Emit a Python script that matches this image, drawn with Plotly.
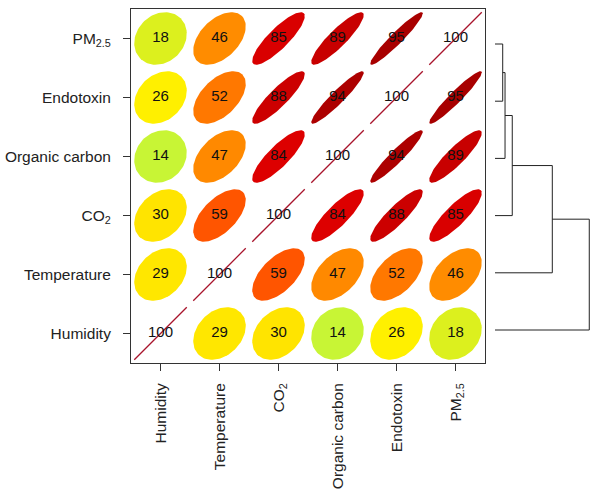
"""Correlation ellipse matrix with a cluster dendrogram on the right"""

import numpy as np
import plotly.graph_objects as go
from plotly.colors import find_intermediate_color, hex_to_rgb

# variables, bottom-to-top on y and left-to-right on x
VARS = ["Humidity", "Temperature", "CO<sub>2</sub>", "Organic carbon", "Endotoxin", "PM<sub>2.5</sub>"]

# correlation (%) in VARS order
CORR = [
    [100, 29, 30, 14, 26, 18],
    [29, 100, 59, 47, 52, 46],
    [30, 59, 100, 84, 88, 85],
    [14, 47, 84, 100, 94, 89],
    [26, 52, 88, 94, 100, 95],
    [18, 46, 85, 89, 95, 100],
]

# dendrogram merges (leaf / node ids, 0-5 are leaves in VARS order) and heights
MERGES = [(5, 4), (6, 3), (7, 2), (8, 1), (9, 0)]
HEIGHTS = [0.063, 0.082, 0.141, 0.468, 0.77]

# colour anchors (value -> colour)
COL_R = [14, 18, 26, 30, 46, 52, 59, 84, 89, 95, 100]
COL_C = ["#c8f535", "#dcf01e", "#fff000", "#ffe400", "#ff8c00", "#ff7800",
         "#ff5500", "#dd0000", "#c80000", "#a80000", "#a8142c"]

W, H = 601, 496
FONT = "Arial, Liberation Sans, sans-serif"


def _color(v):
    for k in range(len(COL_R) - 1):
        if COL_R[k] <= v <= COL_R[k + 1]:
            f = (v - COL_R[k]) / (COL_R[k + 1] - COL_R[k])
            c = find_intermediate_color(hex_to_rgb(COL_C[k]), hex_to_rgb(COL_C[k + 1]), f)
            return "rgb(%d,%d,%d)" % tuple(int(round(x)) for x in c)
    return COL_C[-1]


fig = go.Figure()

a = np.linspace(0, 2 * np.pi, 100)
t = 0.445
n = len(VARS)
for i in range(n):
    for j in range(n):
        r = CORR[i][j] / 100
        d = np.arccos(min(r, 1.0))
        ex = j + 1 + t * np.cos(a + d / 2)
        ey = i + 1 + t * np.cos(a - d / 2)
        if r >= 1:
            fig.add_trace(go.Scatter(x=ex, y=ey, mode="lines", line=dict(color=_color(100), width=1.3),
                                     hoverinfo="skip", showlegend=False))
        else:
            fig.add_trace(go.Scatter(x=ex, y=ey, mode="lines", fill="toself", fillcolor=_color(CORR[i][j]),
                                     line=dict(width=0, color=_color(CORR[i][j])),
                                     hoverinfo="skip", showlegend=False))

xs, ys, txt = [], [], []
for i in range(n):
    for j in range(n):
        xs.append(j + 1)
        ys.append(i + 1)
        txt.append(str(CORR[i][j]))
fig.add_trace(go.Scatter(x=xs, y=ys, mode="text", text=txt,
                         textfont=dict(family=FONT, size=15, color="#111"),
                         hoverinfo="skip", showlegend=False))

# dendrogram
pos = {k: (k + 1, 0.0) for k in range(n)}
dx, dy = [], []
for m, ((p, q), h) in enumerate(zip(MERGES, HEIGHTS)):
    (ya, ha), (yb, hb) = pos[p], pos[q]
    dx += [ha, h, h, hb, None]
    dy += [ya, ya, yb, yb, None]
    pos[n + m] = ((ya + yb) / 2, h)
fig.add_trace(go.Scatter(x=dx, y=dy, mode="lines", line=dict(color="#222", width=1),
                         xaxis="x2", yaxis="y2", hoverinfo="skip", showlegend=False))

axis_common = dict(range=[0.5, 6.5], tickmode="array", tickvals=list(range(1, n + 1)), ticktext=VARS,
                   ticks="outside", ticklen=7, tickcolor="#333", showline=True, mirror=True,
                   linecolor="#333", linewidth=1, showgrid=False, zeroline=False,
                   tickfont=dict(family=FONT, size=15.5, color="#222"))

fig.update_layout(
    width=W, height=H,
    margin=dict(l=0, r=0, t=0, b=0),
    paper_bgcolor="white", plot_bgcolor="white",
    xaxis=dict(domain=[131 / W, 485 / W], tickangle=-90, ticklabelstandoff=6, **axis_common),
    yaxis=dict(domain=[1 - 363 / H, 1 - 9 / H], ticklabelstandoff=9, **axis_common),
    xaxis2=dict(domain=[495 / W, 590.5 / W], range=[0, 0.78], anchor="y2", visible=False),
    yaxis2=dict(domain=[1 - 358.6 / H, 1 - 15.4 / H], range=[0.5, 6.5], anchor="x2", visible=False),
)

fig.write_html("out.html", config={"displayModeBar": False},
               post_script="document.body.style.margin='0';")
